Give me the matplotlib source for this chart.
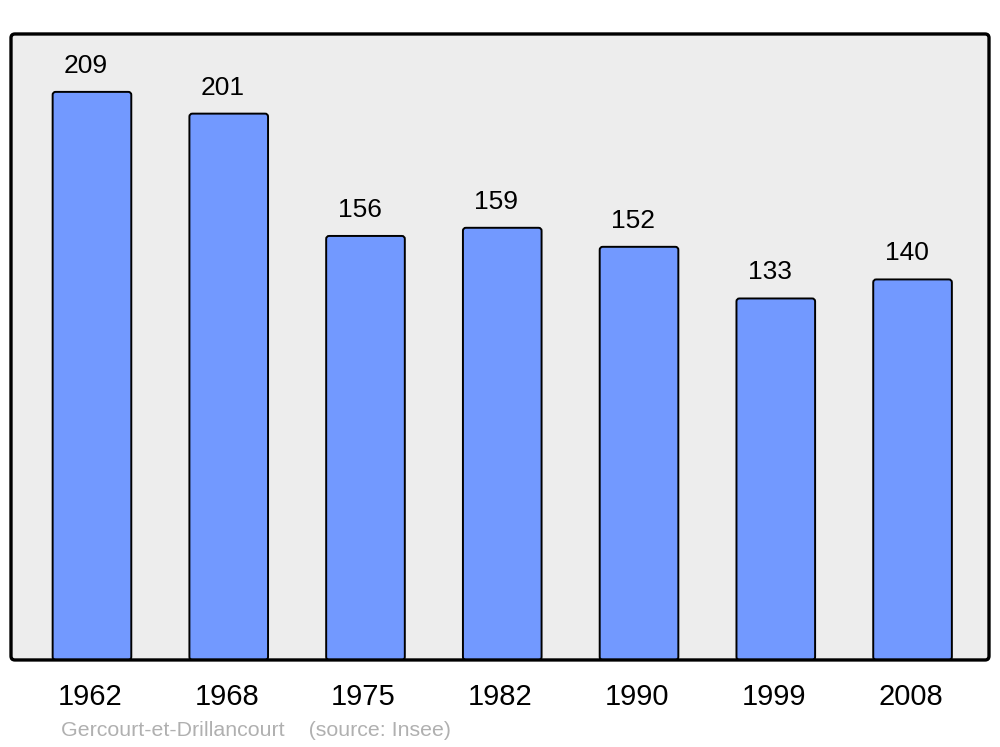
import matplotlib.pyplot as plt
import numpy as np
from matplotlib.patches import FancyBboxPatch

plt.rcParams['font.family'] = ['Liberation Sans', 'DejaVu Sans']

years = ['1962', '1968', '1975', '1982', '1990', '1999', '2008']
population = [209, 201, 156, 159, 152, 133, 140]
town = 'Gercourt-et-Drillancourt'
source = '(source: Insee)'

fig = plt.figure(figsize=(10, 7.47), dpi=100)
ax = fig.add_axes([0.011, 0.1165, 0.978, 0.838])
ax.patch.set_visible(False)

xlim = (-0.592, 6.559)
ylim = (0, 230.3)
ax.set_xlim(*xlim)
ax.set_ylim(*ylim)

# frame with rounded corners
asp = 978 / 626
bg = FancyBboxPatch((0, 0), 1, 1, boxstyle='round,pad=0,rounding_size=0.004',
                    mutation_aspect=asp, transform=ax.transAxes,
                    facecolor='#ededed', edgecolor='none', zorder=0, clip_on=False)
frame = FancyBboxPatch((0, 0), 1, 1, boxstyle='round,pad=0,rounding_size=0.004',
                       mutation_aspect=asp, transform=ax.transAxes,
                       facecolor='none', edgecolor='black', linewidth=2.4,
                       zorder=5, clip_on=False)
ax.add_patch(bg)
ax.add_patch(frame)

x = np.arange(len(years))
bars = ax.bar(x, population, width=0.575)
# redraw each bar with slightly rounded corners
px_x = 978 / (xlim[1] - xlim[0])
px_y = 626 / (ylim[1] - ylim[0])
for b in bars:
    ax.add_patch(FancyBboxPatch((b.get_x(), b.get_y()), b.get_width(), b.get_height(),
                                boxstyle='round,pad=0,rounding_size=%f' % (3 / px_x),
                                mutation_aspect=px_x / px_y,
                                facecolor='#7299ff', edgecolor='black',
                                linewidth=1.4, zorder=2))
    b.set_visible(False)

for xi, v in zip(x, population):
    ax.annotate(str(v), (xi, v), xytext=(-6, 26), textcoords='offset pixels',
                ha='center', va='center', fontsize=19)

ax.set_yticks([])
ax.set_xticks(x - 0.015)
ax.set_xticklabels(years, fontsize=21)
ax.tick_params(axis='x', length=0, pad=16.5)
for s in ax.spines.values():
    s.set_visible(False)

fig.text(0.061, 0.01, town + '    ' + source, fontsize=15.4, color='#b0b0b0',
         ha='left', va='bottom')

fig.savefig('out.png', dpi=100)
